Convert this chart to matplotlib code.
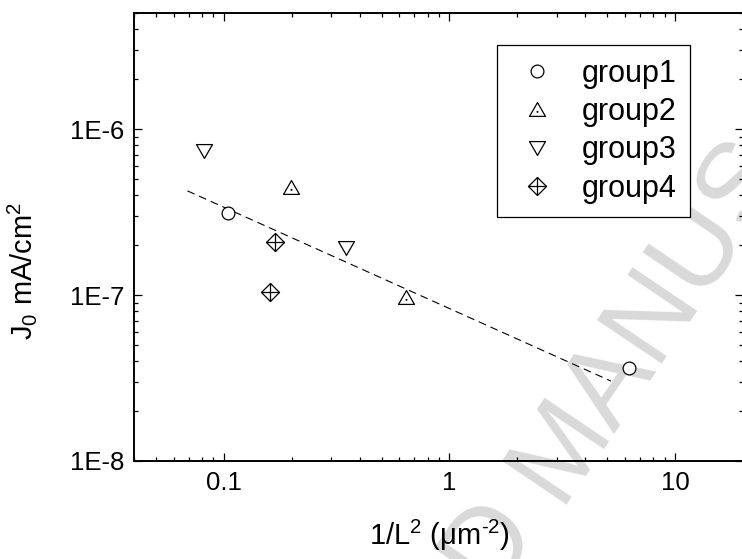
import numpy as np
import matplotlib
matplotlib.use("Agg")
import matplotlib.pyplot as plt
from matplotlib.path import Path
from matplotlib.lines import Line2D
from matplotlib.ticker import LogLocator, FuncFormatter, NullFormatter

# ==========================================
# DATA
# ==========================================
group_names = ["group1", "group2", "group3", "group4"]

g1_x = [0.104, 6.25]
g1_y = [3.12e-7, 3.63e-8]
g2_x = [0.198, 0.645]
g2_y = [4.48e-7, 9.7e-8]
g3_x = [0.0815, 0.347]
g3_y = [7.37e-7, 1.92e-7]
g4_x = [0.168, 0.161]
g4_y = [2.08e-7, 1.04e-7]

fit_x = [0.069, 5.2]
fit_y = [4.24e-7, 3.03e-8]

x_label = "1/L$^2$ (μm$^{\\text{-2}}$)"
y_label = "J$_0$ mA/cm$^2$"

# ==========================================
# STYLE
# ==========================================
plt.rcParams["font.family"] = ["Liberation Sans", "DejaVu Sans"]
plt.rcParams["mathtext.default"] = "regular"
plt.rcParams["mathtext.fontset"] = "custom"
plt.rcParams["mathtext.rm"] = "Liberation Sans"

# equilateral triangles (group2 has the small centre dot of the original)
tri_up = Path(
    [(-1, -0.866), (1, -0.866), (0, 0.866), (-1, -0.866),
     (-0.04, -0.33), (0.04, -0.33), (0.04, -0.25), (-0.04, -0.25), (-0.04, -0.33)],
    [Path.MOVETO, Path.LINETO, Path.LINETO, Path.CLOSEPOLY,
     Path.MOVETO, Path.LINETO, Path.LINETO, Path.LINETO, Path.CLOSEPOLY])
tri_down = Path(
    [(-1, 0.866), (1, 0.866), (0, -0.866), (-1, 0.866)],
    [Path.MOVETO, Path.LINETO, Path.LINETO, Path.CLOSEPOLY])
# diamond with a cross inside
diamond_cross = Path(
    [(0, 1), (1, 0), (0, -1), (-1, 0), (0, 1),
     (-1, 0), (1, 0), (0, -1), (0, 1)],
    [Path.MOVETO, Path.LINETO, Path.LINETO, Path.LINETO, Path.CLOSEPOLY,
     Path.MOVETO, Path.LINETO, Path.MOVETO, Path.LINETO])

styles = [
    dict(marker="o", markersize=9.2),
    dict(marker=tri_up, markersize=11.5),
    dict(marker=tri_down, markersize=11.5),
    dict(marker=diamond_cross, markersize=13),
]
common = dict(linestyle="none", markerfacecolor="white",
              markeredgecolor="black", markeredgewidth=0.9)

# ==========================================
# FIGURE
# ==========================================
fig = plt.figure(figsize=(7.42, 5.59), dpi=100)

# light grey "accepted manuscript" stamp behind the plot
wm = dict(fontsize=82, color="#d9d9d9", rotation=56,
          rotation_mode="anchor", va="baseline", zorder=-5)
fig.text(558 / 742, 1 - 504 / 559, "MANUSCRIPT", ha="left", **wm)
fig.text(541 / 742, 1 - 530 / 559, "ACCEPTED", ha="right", **wm)

ax = fig.add_axes([134 / 742, 1 - 461 / 559, 609 / 742, 448 / 559])
ax.patch.set_alpha(0)

ax.plot(fit_x, fit_y, color="black", linewidth=0.8, dashes=(7, 4.5), zorder=2)

series = [(g1_x, g1_y), (g2_x, g2_y), (g3_x, g3_y), (g4_x, g4_y)]
handles = []
for (xs, ys), st, name in zip(series, styles, group_names):
    ax.plot(xs, ys, zorder=3, **st, **common)
    handles.append(Line2D([], [], **st, **common, label=name))

ax.set_xscale("log")
ax.set_yscale("log")
ax.set_xlim(0.04, 20)
ax.set_ylim(1e-8, 5e-6)

for axis in (ax.xaxis, ax.yaxis):
    axis.set_major_locator(LogLocator(base=10))
    axis.set_minor_locator(LogLocator(base=10, subs=np.arange(2, 10)))
    axis.set_minor_formatter(NullFormatter())
ax.xaxis.set_major_formatter(FuncFormatter(lambda v, p: "%g" % v))
ax.yaxis.set_major_formatter(
    FuncFormatter(lambda v, p: "1E%d" % int(round(np.log10(v)))))

ax.tick_params(which="both", direction="in", top=True, right=True,
               width=0.9, labelsize=18.5, pad=7)
ax.tick_params(which="major", length=6)
ax.tick_params(which="minor", length=3)
for sp in ax.spines.values():
    sp.set_linewidth(1.4)

ax.set_xlabel(x_label, fontsize=21)
ax.xaxis.set_label_coords(0.5008, -0.127)
ax.xaxis.label.set_va("top")
ax.set_ylabel(y_label, fontsize=21)
ax.yaxis.set_label_coords(-0.156, 0.424)

leg = ax.legend(handles=handles, loc="upper left",
                bbox_to_anchor=(497 / 742, 1 - 45 / 559),
                bbox_transform=fig.transFigure, borderaxespad=0,
                fontsize=22, frameon=True, fancybox=False, framealpha=1,
                edgecolor="black", borderpad=0.45, labelspacing=0.27,
                handlelength=1.7, handletextpad=0.62)
leg.get_frame().set_linewidth(0.9)

fig.savefig("out.png", dpi=100)
